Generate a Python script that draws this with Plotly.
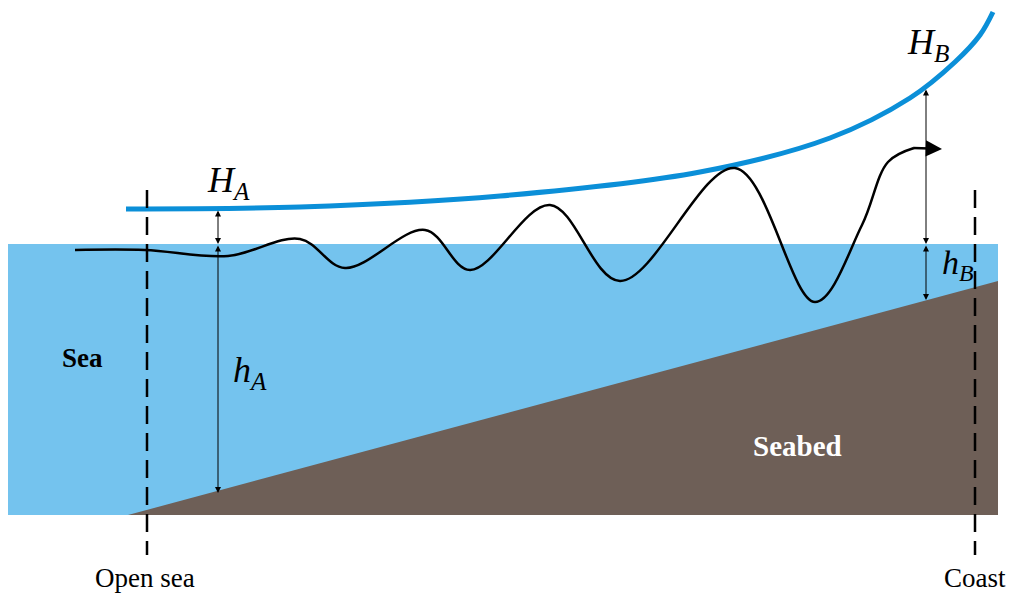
import plotly.graph_objects as go

# diagram coordinates (pixel-like units, y grows downward)
sea_x = [8, 998, 998, 8, 8]
sea_y = [244, 244, 515, 515, 244]
bed_x = [128, 998, 998, 128]
bed_y = [515, 281, 515, 515]
surge_x = [126, 300, 500, 700, 830, 910, 955, 980, 993]
surge_y = [209, 207, 196, 172, 138, 98, 62, 35, 12]
wave_x = [75, 145, 228, 300, 345, 425, 470, 550, 620, 735, 815, 862, 888, 914]
wave_y = [250, 250, 256, 239, 268, 230, 270, 205, 281, 168, 302, 225, 162, 148]

FONT = "Liberation Serif"

fig = go.Figure()
fig.add_trace(go.Scatter(x=sea_x, y=sea_y, fill="toself", fillcolor="#74C3EE",
                         line=dict(width=0), mode="lines", hoverinfo="skip"))
fig.add_trace(go.Scatter(x=bed_x, y=bed_y, fill="toself", fillcolor="#6E5F57",
                         line=dict(width=0), mode="lines", hoverinfo="skip"))
fig.add_trace(go.Scatter(x=surge_x, y=surge_y, mode="lines", line=dict(color="#0B8FD8", width=5, shape="spline")))
fig.add_trace(go.Scatter(x=wave_x, y=wave_y, mode="lines", line=dict(color="black", width=2.5, shape="spline", smoothing=1)))

for xv in [147, 975]:
    fig.add_shape(type="line", x0=xv, x1=xv, y0=190, y1=555, line=dict(color="black", width=2.5, dash="18px,9px"))

# arrow tip of wave
fig.add_annotation(x=942, y=149, ax=912, ay=148, xref="x", yref="y", axref="x", ayref="y",
                   text="", showarrow=True, arrowhead=2, arrowsize=1.3, arrowwidth=2.5, arrowcolor="black")

# double-headed dimension arrows
for xv, y0, y1 in [(218, 209, 244), (218, 244, 493), (926, 88, 244), (926, 244, 300)]:
    fig.add_annotation(x=xv, y=y1, ax=xv, ay=y0, xref="x", yref="y", axref="x", ayref="y",
                       text="", showarrow=True, arrowhead=2, startarrowhead=2, arrowside="end+start",
                       arrowsize=1.2, arrowwidth=1, arrowcolor="black")

labels = [
    (228, 182, "<i>H<sub>A</sub></i>", 36, "black"),
    (928, 44, "<i>H<sub>B</sub></i>", 36, "black"),
    (250, 372, "<i>h<sub>A</sub></i>", 36, "black"),
    (958, 265, "<i>h<sub>B</sub></i>", 34, "black"),
    (82, 358, "<b>Sea</b>", 27, "black"),
    (797, 446, "<b>Seabed</b>", 29, "white"),
    (145, 578, "Open sea", 27, "black"),
    (975, 578, "Coast", 27, "black"),
]
for x, y, t, s, c in labels:
    fig.add_annotation(x=x, y=y, text=t, showarrow=False, font=dict(family=FONT, size=s, color=c))

fig.update_layout(width=1024, height=607, margin=dict(l=0, r=0, t=0, b=0),
                  plot_bgcolor="white", paper_bgcolor="white", showlegend=False)
# page body adds an 8px offset, so shift the view window to compensate
fig.update_xaxes(range=[8, 1032], visible=False)
fig.update_yaxes(range=[615, 8], visible=False)
fig.write_html("out.html")
